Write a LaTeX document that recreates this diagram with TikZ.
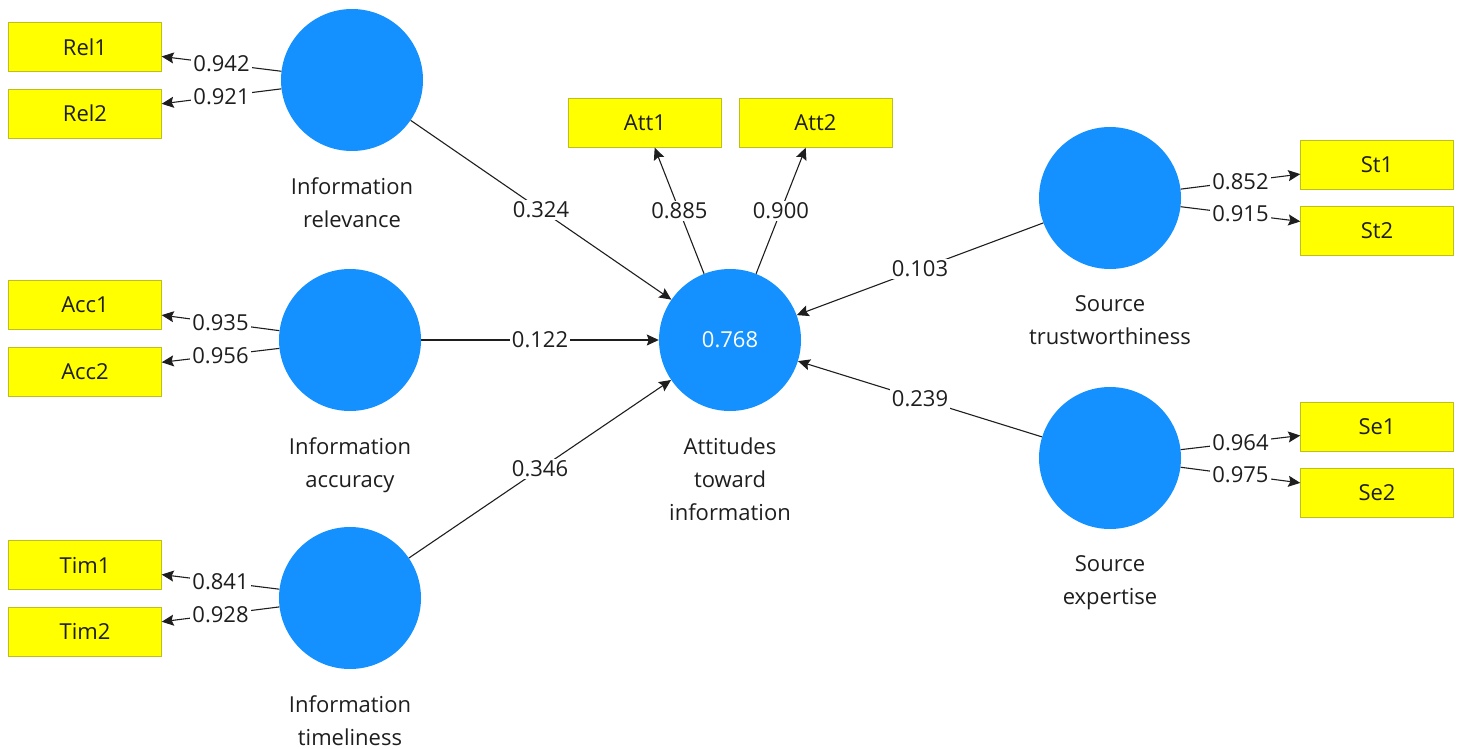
\documentclass[tikz,border=0pt]{standalone}
\usepackage{fontspec}
\setmainfont{Open Sans}
\usetikzlibrary{positioning,arrows.meta}
\definecolor{lvblue}{RGB}{20,145,255}
\definecolor{mvyellow}{RGB}{255,255,0}
\definecolor{mvframe}{RGB}{190,190,30}
\definecolor{ink}{RGB}{30,30,30}
\begin{document}
\begin{tikzpicture}[x=1pt, y=-1pt, >={Stealth[length=12pt,width=11pt,inset=2pt]},
        every node/.style={font=\fontsize{22}{33}\selectfont, text=ink},
        lv/.style={circle, fill=lvblue, minimum size=142pt, inner sep=0pt},
        mv/.style={draw=mvframe, fill=mvyellow, minimum width=153pt, minimum height=49pt, inner sep=0pt},
        lvcap/.style={align=center, inner sep=0pt},
        coef/.style={midway, fill=white, inner sep=2pt},
        link/.style={draw=ink, line width=1.1pt}]
        \useasboundingbox (0,0) rectangle (1462,749);
        % latent variables
        \node[lv] (rel) at (352,80) {};
        \node[lv] (acc) at (350,340) {};
        \node[lv] (tim) at (350,598) {};
        \node[lv, text=white] (att) at (730,340) {0.768};
        \node[lv] (st) at (1110,198) {};
        \node[lv] (se) at (1110,458) {};
        \node[lvcap, below=26pt of rel] (relcap) {Information\\relevance};
        \node[lvcap, below=26pt of acc] (acccap) {Information\\accuracy};
        \node[lvcap, below=26pt of tim] (timcap) {Information\\timeliness};
        \node[lvcap, below=26pt of att] (attcap) {Attitudes\\toward\\information};
        \node[lvcap, below=26pt of st] (stcap) {Source\\trustworthiness};
        \node[lvcap, below=26pt of se] (secap) {Source\\expertise};
        % indicators
        \node[mv] (rel1) at (85,47) {Rel1};
        \node[mv, below=17pt of rel1] (rel2) {Rel2};
        \node[mv] (acc1) at (85,305) {Acc1};
        \node[mv, below=17pt of acc1] (acc2) {Acc2};
        \node[mv] (tim1) at (85,565) {Tim1};
        \node[mv, below=17pt of tim1] (tim2) {Tim2};
        \node[mv] (att1) at (645,123) {Att1};
        \node[mv, right=17pt of att1] (att2) {Att2};
        \node[mv] (st1) at (1377,164.5) {St1};
        \node[mv, below=17pt of st1] (st2) {St2};
        \node[mv] (se1) at (1377,426.5) {Se1};
        \node[mv, below=17pt of se1] (se2) {Se2};
        % outer loadings
        \draw[link, ->] (rel) -- node[coef] {0.942} (rel1);
        \draw[link, ->] (rel) -- node[coef] {0.921} (rel2);
        \draw[link, ->] (acc) -- node[coef] {0.935} (acc1);
        \draw[link, ->] (acc) -- node[coef] {0.956} (acc2);
        \draw[link, ->] (tim) -- node[coef] {0.841} (tim1);
        \draw[link, ->] (tim) -- node[coef] {0.928} (tim2);
        \draw[link, ->] (att) -- node[coef] {0.885} (att1);
        \draw[link, ->] (att) -- node[coef] {0.900} (att2);
        \draw[link, ->] (st) -- node[coef] {0.852} (st1);
        \draw[link, ->] (st) -- node[coef] {0.915} (st2);
        \draw[link, ->] (se) -- node[coef] {0.964} (se1);
        \draw[link, ->] (se) -- node[coef] {0.975} (se2);
        % path coefficients
        \draw[link, ->] (rel) -- node[coef] {0.324} (att);
        \draw[link, ->] (acc) -- node[coef] {0.122} (att);
        \draw[link, ->] (tim) -- node[coef] {0.346} (att);
        \draw[link, ->] (st) -- node[coef] {0.103} (att);
        \draw[link, ->] (se) -- node[coef] {0.239} (att);
    \end{tikzpicture}
\end{document}
